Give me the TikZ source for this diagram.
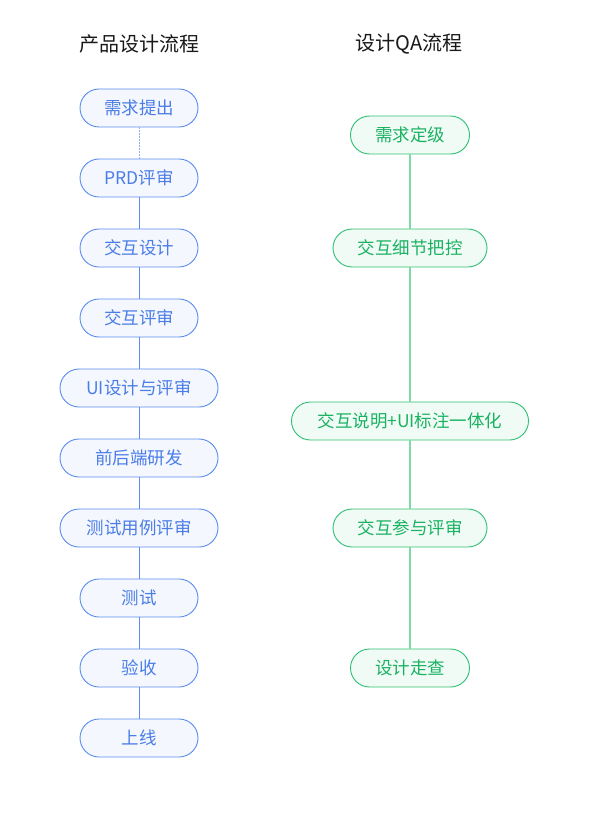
\documentclass[tikz,border=0pt]{standalone}
\usepackage{fontspec}
\setmainfont{Noto Sans CJK SC}
\definecolor{bblue}{HTML}{5A8CEE}
\definecolor{bfill}{HTML}{F5F7FE}
\definecolor{btext}{HTML}{4A7DE6}
\definecolor{gline}{HTML}{2EC072}
\definecolor{gfill}{HTML}{F1FBF6}
\definecolor{gtext}{HTML}{1AB262}
\definecolor{gconn}{HTML}{7FDAA8}
\definecolor{dconn}{HTML}{8FB0F2}
\begin{document}
\begin{tikzpicture}[x=1pt,y=-1pt,
  bbox/.style={draw=bblue,fill=bfill,text=btext,rounded corners=19pt,minimum height=38pt,inner sep=0pt,font=\fontsize{17.5}{20}\selectfont,line width=0.9pt},
  gbox/.style={draw=gline,fill=gfill,text=gtext,rounded corners=19pt,minimum height=38pt,inner sep=0pt,font=\fontsize{17.5}{20}\selectfont,line width=0.9pt},
  title/.style={font=\fontsize{20}{24}\selectfont,text=black!90},
  bconn/.style={draw=bblue,line width=1pt},
  gconnl/.style={draw=gconn,line width=1.2pt}]
\useasboundingbox (0,0) rectangle (589,818);
\fill[white] (0,0) rectangle (589,818);
\node[title] (t1) at (139,44) {产品设计流程};
\node[title] (t2) at (409,44) {设计QA流程};
\node[bbox,minimum width=118pt] (a1) at (139,108) {需求提出};
\node[bbox,minimum width=118pt] (a2) at (139,178) {PRD评审};
\node[bbox,minimum width=118pt] (a3) at (139,248) {交互设计};
\node[bbox,minimum width=118pt] (a4) at (139,318) {交互评审};
\node[bbox,minimum width=158pt] (a5) at (139,388) {UI设计与评审};
\node[bbox,minimum width=158pt] (a6) at (139,458) {前后端研发};
\node[bbox,minimum width=158pt] (a7) at (139,528) {测试用例评审};
\node[bbox,minimum width=118pt] (a8) at (139,598) {测试};
\node[bbox,minimum width=118pt] (a9) at (139,668) {验收};
\node[bbox,minimum width=118pt] (a10) at (139,738) {上线};
\draw[draw=dconn,line width=1pt,dash pattern=on 1.5pt off 1.5pt] (a1) -- (a2);
\foreach \i/\j in {a2/a3,a3/a4,a4/a5,a5/a6,a6/a7,a7/a8,a8/a9,a9/a10}
  \draw[bconn] (\i) -- (\j);
\node[gbox,minimum width=119pt] (b1) at (410,135) {需求定级};
\node[gbox,minimum width=154pt] (b2) at (410,248) {交互细节把控};
\node[gbox,minimum width=237pt] (b3) at (410,421) {交互说明+UI标注一体化};
\node[gbox,minimum width=154pt] (b4) at (410,528) {交互参与评审};
\node[gbox,minimum width=119pt] (b5) at (410,668) {设计走查};
\foreach \i/\j in {b1/b2,b2/b3,b3/b4,b4/b5}
  \draw[gconnl] (\i) -- (\j);
\end{tikzpicture}
\end{document}
